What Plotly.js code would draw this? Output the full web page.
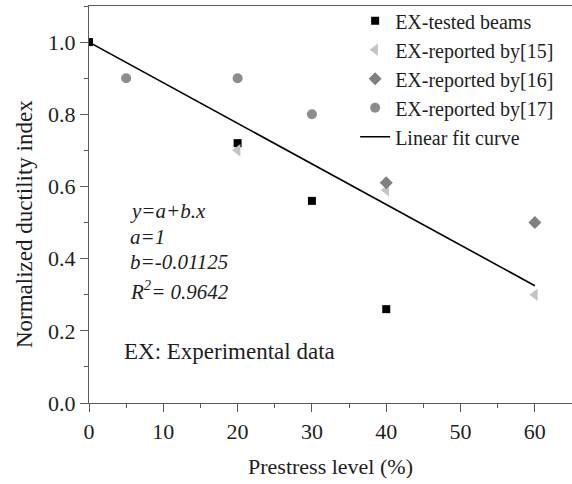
<!DOCTYPE html>
<html>
<head>
<meta charset="utf-8">
<script src="https://cdn.plot.ly/plotly-3.0.1.min.js"></script>
<style>
  html, body { margin: 0; padding: 0; background: #fff; }
  #chart { width: 572px; height: 484px; }
</style>
</head>
<body>
<div id="chart"></div>
<script>
// Prestress level (%) and normalized ductility index for each data source
const testedX = [0, 20, 30, 40];
const testedY = [1.0, 0.72, 0.56, 0.26];

const ref15X = [20, 40, 60];
const ref15Y = [0.70, 0.59, 0.30];

const ref16X = [40, 60];
const ref16Y = [0.61, 0.50];

const ref17X = [5, 20, 30];
const ref17Y = [0.90, 0.90, 0.80];

// Linear fit y = a + b*x over the tested prestress range
const fitA = 1;
const fitB = -0.01125;
const fitR2 = 0.9642;
const fitX = [0, 60];
const fitY = fitX.map(x => fitA + fitB * x);

const xTicks = [0, 10, 20, 30, 40, 50, 60];
const yTicks = [0.0, 0.2, 0.4, 0.6, 0.8, 1.0];

const serif = '"Liberation Serif", "Times New Roman", Times, serif';
const axisColor = '#5a5a5a';
const textColor = '#1e1e1e';

const traces = [
  {
    x: testedX, y: testedY, name: 'EX-tested beams', type: 'scatter', mode: 'markers',
    marker: { symbol: 'square', size: 8, color: '#000000' }
  },
  {
    x: ref15X, y: ref15Y, name: 'EX-reported by[15]', type: 'scatter', mode: 'markers',
    marker: { symbol: 'triangle-left', size: 11, color: '#c4c4c4' }
  },
  {
    x: ref16X, y: ref16Y, name: 'EX-reported by[16]', type: 'scatter', mode: 'markers',
    marker: { symbol: 'diamond', size: 10, color: '#808080' }
  },
  {
    x: ref17X, y: ref17Y, name: 'EX-reported by[17]', type: 'scatter', mode: 'markers',
    marker: { symbol: 'circle', size: 10, color: '#8c8c8c' }
  },
  {
    x: fitX, y: fitY, name: 'Linear fit curve', type: 'scatter', mode: 'lines',
    line: { color: '#000000', width: 1.6 }
  }
];

const eqFont = { family: serif, size: 21, color: textColor };

const layout = {
  width: 572,
  height: 484,
  margin: { l: 89, r: 0, t: 6, b: 81 },
  paper_bgcolor: '#ffffff',
  plot_bgcolor: '#ffffff',
  font: { family: serif, size: 21, color: textColor },
  showlegend: true,
  legend: {
    x: 0.551, xanchor: 'left', y: 1.012, yanchor: 'top',
    bgcolor: 'rgba(0,0,0,0)', borderwidth: 0,
    font: { family: serif, size: 20, color: textColor },
    tracegroupgap: 0
  },
  xaxis: {
    range: [0, 65],
    tickvals: xTicks,
    ticktext: xTicks.map(String),
    ticks: 'outside', ticklen: 8, tickwidth: 1, tickcolor: axisColor,
    minor: { dtick: 5, ticks: 'outside', ticklen: 4, tickcolor: axisColor, showgrid: false },
    showline: true, linecolor: axisColor, linewidth: 1.2, mirror: true,
    showgrid: false, zeroline: false,
    tickfont: { family: serif, size: 22, color: textColor },
    title: { text: 'Prestress level (%)', font: { family: serif, size: 22, color: textColor }, standoff: 16 }
  },
  yaxis: {
    range: [0, 1.1],
    tickvals: yTicks,
    ticktext: yTicks.map(v => v.toFixed(1)),
    ticks: 'outside', ticklen: 8, tickwidth: 1, tickcolor: axisColor,
    minor: { dtick: 0.1, ticks: 'outside', ticklen: 4, tickcolor: axisColor, showgrid: false },
    showline: true, linecolor: axisColor, linewidth: 1.2,
    showgrid: false, zeroline: false,
    tickfont: { family: serif, size: 22, color: textColor }
  },
  annotations: [
    // y-axis title, set slightly below the middle of the axis
    { xref: 'paper', yref: 'paper', x: -0.133, y: 0.45, xanchor: 'center', yanchor: 'middle',
      textangle: -90, showarrow: false,
      text: 'Normalized ductility index', font: { family: serif, size: 23, color: textColor } },
    { xref: 'x', yref: 'y', x: 5.3, y: 0.532, xanchor: 'left', yanchor: 'middle', showarrow: false,
      text: '<i>y=a+b.x</i>', font: eqFont },
    { xref: 'x', yref: 'y', x: 5.3, y: 0.46, xanchor: 'left', yanchor: 'middle', showarrow: false,
      text: '<i>a=' + fitA + '</i>', font: eqFont },
    { xref: 'x', yref: 'y', x: 5.3, y: 0.391, xanchor: 'left', yanchor: 'middle', showarrow: false,
      text: '<i>b=' + fitB + '</i>', font: eqFont },
    { xref: 'x', yref: 'y', x: 5.3, y: 0.313, xanchor: 'left', yanchor: 'middle', showarrow: false,
      text: '<i>R<sup>2</sup>= ' + fitR2 + '</i>', font: eqFont },
    { xref: 'x', yref: 'y', x: 4.5, y: 0.142, xanchor: 'left', yanchor: 'middle', showarrow: false,
      text: 'EX: Experimental data', font: { family: serif, size: 23, color: textColor } }
  ]
};

Plotly.newPlot('chart', traces, layout, { displayModeBar: false, staticPlot: true });
</script>
</body>
</html>
